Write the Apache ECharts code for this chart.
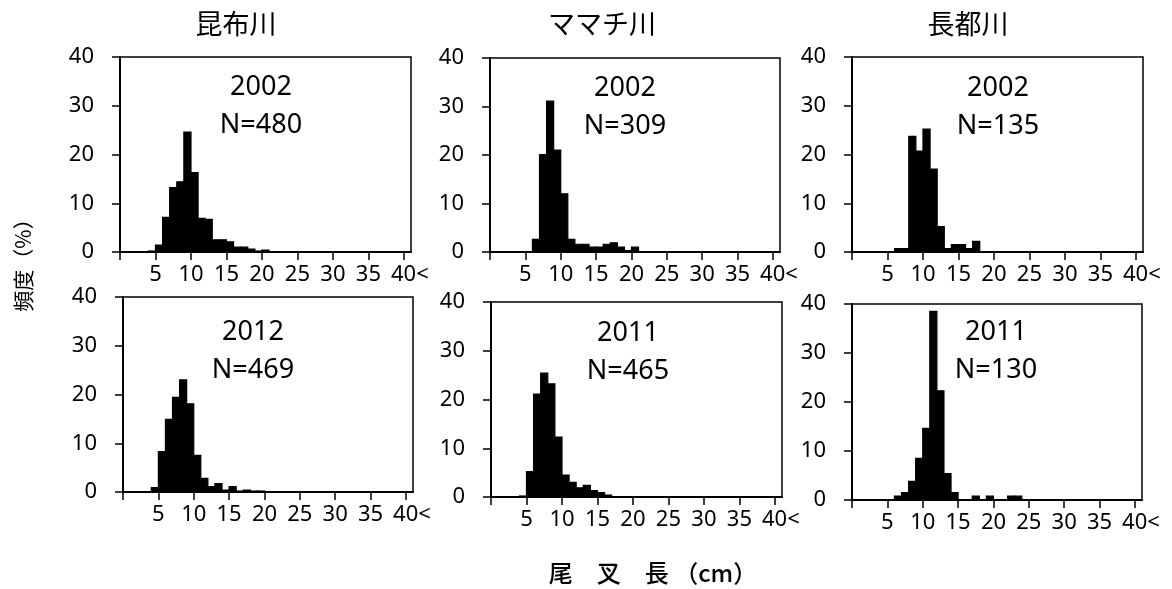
<!DOCTYPE html>
<html>
<head>
<meta charset="utf-8">
<script src="https://cdn.jsdelivr.net/npm/echarts@6/dist/echarts.min.js"></script>
<style>
  html, body { margin: 0; padding: 0; background: #fff; }
  #main { width: 1172px; height: 589px; }
</style>
</head>
<body>
<div id="main"></div>
<script>
// bins: 1..41 cm (bin k covers k-1 .. k, last bin is "40<")
var binCount = 41
var xTickValues = [0, 5, 10, 15, 20, 25, 30, 35, 40]
var xLabelValues = [5, 10, 15, 20, 25, 30, 35, 40]
var rivers = ['昆布川', 'ママチ川', '長都川']
var years = ['2002', '2002', '2002', '2012', '2011', '2011']
var sampleSizes = [480, 309, 135, 469, 465, 130]

// frequency (%) per bin (index 0 = bin 1)
var konbu2002 = [0, 0, 0, 0, 0.2, 1.4, 7.1, 13.2, 14.4, 24.6, 16.3, 6.9, 6.7, 2.5, 2.5, 2.1, 1.0, 1.0, 0.6, 0.2, 0.4]
var mamachi2002 = [0, 0, 0, 0, 0, 0, 2.6, 20.1, 31.1, 21.0, 12.0, 2.6, 1.6, 1.6, 1.0, 1.0, 1.6, 1.9, 1.0, 0.3, 1.0]
var osatsu2002 = [0, 0, 0, 0, 0, 0, 0.7, 0.7, 23.7, 20.7, 25.2, 17.0, 5.2, 0.7, 1.5, 1.5, 0.7, 2.2]
var konbu2012 = [0, 0, 0, 0, 0.9, 8.3, 14.9, 19.4, 23.0, 18.1, 7.5, 2.8, 1.1, 1.7, 0.4, 1.1, 0.2, 0.4, 0.2, 0.2]
var mamachi2011 = [0, 0, 0, 0, 0.2, 5.2, 21.1, 25.4, 23.2, 12.3, 4.5, 3.0, 1.9, 2.4, 1.3, 0.9, 0.4]
var osatsu2011 = [0, 0, 0, 0, 0, 0, 0.8, 1.5, 3.8, 8.5, 14.6, 38.5, 22.3, 5.4, 1.5, 0, 0, 0.8, 0, 0.8, 0, 0, 0.8, 0.8]
var panelData = [konbu2002, mamachi2002, osatsu2002, konbu2012, mamachi2011, osatsu2011]

var numFont = 'Noto Sans, Liberation Sans, sans-serif'
var cjkFont = 'Noto Sans CJK JP, sans-serif'

// plot areas of the six panels
var panelGrids = [
  {left: 120, top: 57, width: 291, height: 195},
  {left: 490, top: 58, width: 290, height: 194},
  {left: 852, top: 57, width: 291, height: 195},
  {left: 123, top: 297, width: 290, height: 195},
  {left: 491, top: 302, width: 291, height: 195},
  {left: 852, top: 304, width: 290, height: 196}
]
var notePos = [[261, 106], [625, 107], [998, 107], [253, 351], [628, 352], [996, 351]]
var riverPos = [[236, 24], [602, 24], [968, 24]]

function binSeries (values) {
  var out = []
  for (var i = 0; i < binCount; i++) {
    out.push([i + 1, values[i] || 0])
  }
  return out
}

var grids = []
var xAxes = []
var yAxes = []
var series = []
var graphics = []

for (var p = 0; p < 6; p++) {
  grids.push({
    left: panelGrids[p].left,
    top: panelGrids[p].top,
    width: panelGrids[p].width,
    height: panelGrids[p].height,
    show: true,
    borderColor: '#000',
    borderWidth: 1.5,
    backgroundColor: 'transparent'
  })
  xAxes.push({
    type: 'value',
    gridIndex: p,
    min: 0,
    max: binCount,
    axisLine: {lineStyle: {color: '#000', width: 2}},
    axisTick: {show: true, length: 8, customValues: xTickValues, lineStyle: {color: '#000', width: 1.5}},
    axisLabel: {
      customValues: xLabelValues,
      color: '#000',
      fontSize: 22,
      fontFamily: numFont,
      margin: 12,
      formatter: function (v) { return v === 40 ? '{last|40<}' : String(v) },
      rich: {last: {fontSize: 22, fontFamily: numFont, color: '#000', padding: [0, 0, 0, 12]}}
    },
    splitLine: {show: false}
  })
  yAxes.push({
    type: 'value',
    gridIndex: p,
    min: 0,
    max: 40,
    interval: 10,
    axisLine: {show: true, lineStyle: {color: '#000', width: 2}},
    axisTick: {show: true, length: 8, lineStyle: {color: '#000', width: 1.5}},
    axisLabel: {color: '#000', fontSize: 22, fontFamily: numFont, margin: 26},
    splitLine: {show: false}
  })
  series.push({
    type: 'custom',
    xAxisIndex: p,
    yAxisIndex: p,
    encode: {x: 0, y: 1},
    data: binSeries(panelData[p]),
    renderItem: function (params, api) {
      var v = api.value(1)
      if (!v) return null
      var top = api.coord([api.value(0) - 1, v])
      var base = api.coord([api.value(0), 0])
      return {
        type: 'rect',
        shape: {x: top[0], y: top[1], width: base[0] - top[0], height: base[1] - top[1]},
        style: {fill: '#000', stroke: '#000', lineWidth: 1.2}
      }
    }
  })
  graphics.push({
    type: 'text',
    x: notePos[p][0],
    y: notePos[p][1],
    style: {
      text: years[p] + '\nN=' + sampleSizes[p],
      align: 'center',
      verticalAlign: 'middle',
      fontSize: 27,
      lineHeight: 38,
      fontFamily: numFont,
      fill: '#000'
    }
  })
}

for (var r = 0; r < rivers.length; r++) {
  graphics.push({
    type: 'text',
    x: riverPos[r][0],
    y: riverPos[r][1],
    style: {text: rivers[r], align: 'center', verticalAlign: 'middle', fontSize: 27, fontFamily: cjkFont, fill: '#000'}
  })
}

graphics.push({
  type: 'text',
  x: 23,
  y: 260,
  rotation: Math.PI / 2,
  style: {text: '頻度（%）', align: 'center', verticalAlign: 'middle', fontSize: 21, fontFamily: cjkFont, fill: '#000'}
})
graphics.push({
  type: 'text',
  x: 653,
  y: 573,
  style: {text: '尾　叉　長 （cm）', align: 'center', verticalAlign: 'middle', fontSize: 24, fontFamily: cjkFont, fontWeight: 500, fill: '#000'}
})

var chart = echarts.init(document.getElementById('main'), null, {renderer: 'canvas'})
chart.setOption({
  animation: false,
  backgroundColor: '#fff',
  grid: grids,
  xAxis: xAxes,
  yAxis: yAxes,
  series: series,
  graphic: graphics
})
</script>
</body>
</html>
